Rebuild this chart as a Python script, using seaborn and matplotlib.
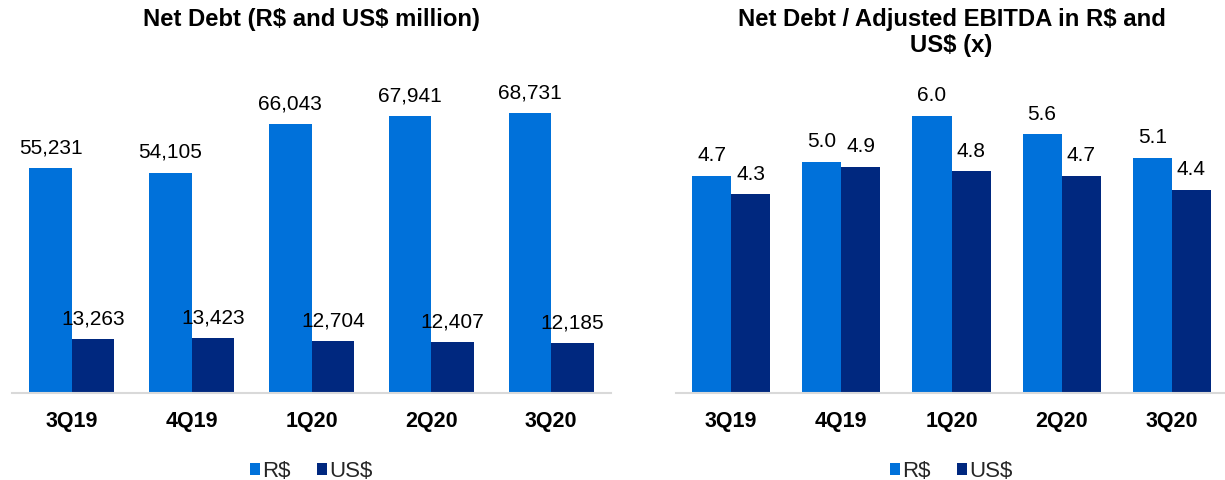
import numpy as np
import pandas as pd
import matplotlib
matplotlib.use("Agg")
import matplotlib.pyplot as plt
import seaborn as sns

# Quarterly figures
quarters = ["3Q19", "4Q19", "1Q20", "2Q20", "3Q20"]
currencies = ["R$", "US$"]
net_debt_brl = [55231, 54105, 66043, 67941, 68731]
net_debt_usd = [13263, 13423, 12704, 12407, 12185]
leverage_brl = [4.7, 5.0, 6.0, 5.6, 5.1]
leverage_usd = [4.3, 4.9, 4.8, 4.7, 4.4]

title_left = "Net Debt (R$ and US$ million)"
title_right = "Net Debt / Adjusted EBITDA in R$ and\nUS$ (x)"

palette = {"R$": "#0071DA", "US$": "#00287F"}
axis_gray = "#D9D9D9"

sns.set_theme(style="white")
plt.rcParams["font.family"] = ["Liberation Sans", "DejaVu Sans"]
plt.rcParams["text.parse_math"] = False  # keep "$" literal

W, H = 1225, 481
fig = plt.figure(figsize=(W / 100, H / 100), dpi=100)


def px_axes(x0, x1, y_top, y_base):
    return fig.add_axes([x0 / W, (H - y_base) / H, (x1 - x0) / W, (y_base - y_top) / H])


def long_frame(brl, usd):
    return pd.DataFrame({
        "quarter": quarters * 2,
        "currency": ["R$"] * len(quarters) + ["US$"] * len(quarters),
        "value": list(brl) + list(usd),
    })


def draw_panel(ax, df, ymax, fmt, title):
    sns.barplot(data=df, x="quarter", y="value", hue="currency",
                hue_order=currencies, order=quarters, palette=palette,
                width=0.71, gap=0, saturation=1, ax=ax, errorbar=None,
                linewidth=0)
    handles, labels = ax.get_legend_handles_labels()
    if ax.get_legend() is not None:
        ax.get_legend().remove()

    for cont in ax.containers:
        ax.bar_label(cont, labels=[fmt(v) for v in cont.datavalues],
                     padding=8.5, fontsize=15, color="#000000")

    ax.set_xlim(-0.5, len(quarters) - 0.5)
    ax.set_ylim(0, ymax)
    ax.set_xlabel("")
    ax.set_ylabel("")
    ax.set_yticks([])
    for side in ("left", "right", "top"):
        ax.spines[side].set_visible(False)
    ax.spines["bottom"].set_color(axis_gray)
    ax.spines["bottom"].set_linewidth(1.5)

    ax.set_xticks(range(len(quarters)))
    ax.set_xticklabels(quarters, fontsize=15.5, fontweight="bold", color="#000000")
    ax.tick_params(axis="x", which="major", length=0, pad=12)
    ax.set_xticks(np.arange(-0.5, len(quarters)), minor=True)
    ax.tick_params(axis="x", which="minor", length=4.5, width=1.2,
                   color=axis_gray, direction="out")
    ax.patch.set_alpha(0)

    bbox = ax.get_position()
    cx = (bbox.x0 + bbox.x1) / 2
    fig.text(cx, 1 - 8 / H, title, ha="center", va="top", fontsize=17.2,
             fontweight="bold", color="#000000", linespacing=1.18)

    fig.legend(handles, labels, loc="center", bbox_to_anchor=(cx, 9 / H),
               bbox_transform=fig.transFigure, ncol=2, frameon=False,
               fontsize=16, handlelength=0.45, handleheight=0.45,
               handletextpad=0.1, columnspacing=1.2, borderpad=0)


ax_left = px_axes(12, 611, 68, 394)
ax_right = px_axes(676, 1227, 68, 394)

draw_panel(ax_left, long_frame(net_debt_brl, net_debt_usd), 80000,
           lambda v: f"{v:,.0f}", title_left)
draw_panel(ax_right, long_frame(leverage_brl, leverage_usd), 7.06,
           lambda v: f"{v:.1f}", title_right)

fig.savefig("out.png", dpi=100, facecolor="white")
